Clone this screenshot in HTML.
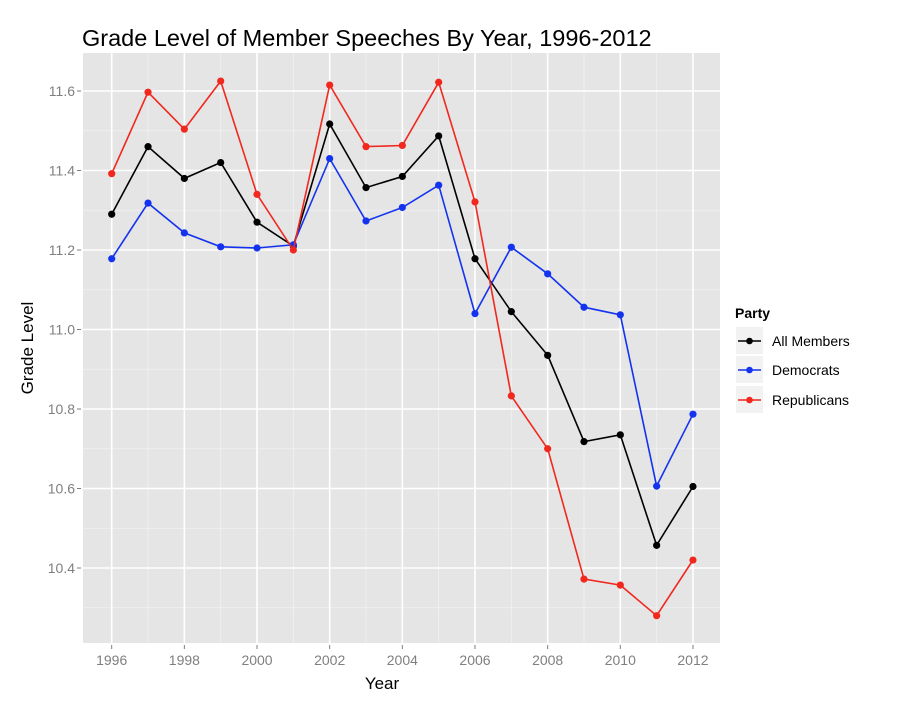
<!DOCTYPE html><html><head><style>body{margin:0;background:#fff}svg{display:block}text{font-family:"Liberation Sans",sans-serif}</style></head><body>
<svg id="s" width="900" height="707" xmlns="http://www.w3.org/2000/svg">
<rect width="900" height="707" fill="#fff"/>
<text x="82" y="46" font-size="23.5" fill="#000">Grade Level of Member Speeches By Year, 1996-2012</text>
<rect x="83" y="53" width="637" height="590" fill="#e5e5e5"/>
<g id="g"></g>
<text x="382" y="689" font-size="17" text-anchor="middle">Year</text>
<text transform="translate(33,348) rotate(-90)" font-size="17" text-anchor="middle">Grade Level</text>
<text x="735" y="318" font-size="14" font-weight="bold">Party</text>
<rect x="736" y="327" width="27" height="27" fill="#f2f2f2"/>
<rect x="736" y="356" width="27" height="27" fill="#f2f2f2"/>
<rect x="736" y="386" width="27" height="27" fill="#f2f2f2"/>
<line x1="738" x2="761" y1="341" y2="341" stroke="#000" stroke-width="1.5"/><circle cx="749.5" cy="341" r="3.3" fill="#000"/>
<line x1="738" x2="761" y1="370" y2="370" stroke="#1433ee" stroke-width="1.5"/><circle cx="749.5" cy="370" r="3.3" fill="#1433ee"/>
<line x1="738" x2="761" y1="400" y2="400" stroke="#f0281e" stroke-width="1.5"/><circle cx="749.5" cy="400" r="3.3" fill="#f0281e"/>
<text x="772" y="346" font-size="14">All Members</text>
<text x="772" y="375" font-size="14">Democrats</text>
<text x="772" y="405" font-size="14">Republicans</text>
</svg>
<script>
var g=document.getElementById('g'),h='';
function X(i){return 111.7+36.33*i}
function Y(v){return 91+(11.6-v)*397.5}
for(var i=-1;i<=17;i+=2){var x=X(i);if(x>83&&x<720)h+='<line x1="'+x+'" x2="'+x+'" y1="53" y2="643" stroke="#f2f2f2" stroke-width="0.8"/>';}
for(var k=0;k<8;k++){var v=10.3+k*0.2,y=Y(v);if(y>53&&y<643)h+='<line x1="83" x2="720" y1="'+y+'" y2="'+y+'" stroke="#f2f2f2" stroke-width="0.8"/>';}
for(var i=0;i<=16;i+=2){var x=X(i);h+='<line x1="'+x+'" x2="'+x+'" y1="53" y2="643" stroke="#fff" stroke-width="1.6"/>';}
for(var k=0;k<7;k++){var v=10.4+k*0.2,y=Y(v);h+='<line x1="83" x2="720" y1="'+y+'" y2="'+y+'" stroke="#fff" stroke-width="1.6"/><line x1="77" x2="81" y1="'+y+'" y2="'+y+'" stroke="#7f7f7f"/><text x="75" y="'+(y+5)+'" font-size="14" fill="#7f7f7f" text-anchor="end">'+v.toFixed(1)+'</text>';}
for(var i=0;i<=16;i+=2){var x=X(i);h+='<line x1="'+x+'" x2="'+x+'" y1="645" y2="649" stroke="#7f7f7f"/><text x="'+x+'" y="665" font-size="14" fill="#7f7f7f" text-anchor="middle">'+(1996+i)+'</text>';}
var D=[["#000",[11.29,11.46,11.38,11.42,11.27,11.21,11.517,11.357,11.385,11.487,11.178,11.045,10.935,10.718,10.735,10.457,10.605]],
["#1433ee",[11.178,11.318,11.243,11.208,11.205,11.213,11.43,11.273,11.307,11.363,11.04,11.207,11.14,11.056,11.037,10.606,10.787]],
["#f0281e",[11.392,11.597,11.504,11.625,11.34,11.2,11.615,11.46,11.463,11.622,11.321,10.833,10.7,10.372,10.357,10.28,10.42]]];
D.forEach(function(s){var p=s[1].map(function(v,i){return X(i).toFixed(1)+','+Y(v).toFixed(1)}).join(' ');
h+='<polyline points="'+p+'" fill="none" stroke="'+s[0]+'" stroke-width="1.6"/>';
s[1].forEach(function(v,i){h+='<circle cx="'+X(i)+'" cy="'+Y(v)+'" r="3.6" fill="'+s[0]+'"/>';});});
g.innerHTML=h;
</script>
</body></html>
